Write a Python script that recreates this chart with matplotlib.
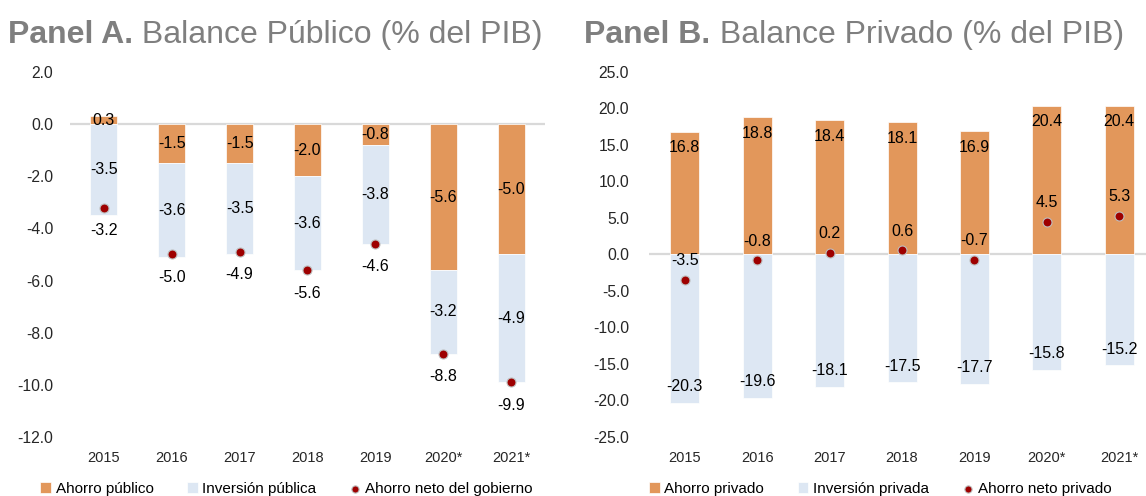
import numpy as np
import matplotlib.pyplot as plt

plt.rcParams['font.family'] = ['Liberation Sans', 'DejaVu Sans']

years = ['2015', '2016', '2017', '2018', '2019', '2020*', '2021*']

# Panel A - sector publico (% del PIB)
ahorro_pub = [0.3, -1.5, -1.5, -2.0, -0.8, -5.6, -5.0]
inversion_pub = [-3.5, -3.6, -3.5, -3.6, -3.8, -3.2, -4.9]
neto_gob = [-3.2, -5.0, -4.9, -5.6, -4.6, -8.8, -9.9]

# Panel B - sector privado (% del PIB)
ahorro_priv = [16.8, 18.8, 18.4, 18.1, 16.9, 20.4, 20.4]
inversion_priv = [-20.3, -19.6, -18.1, -17.5, -17.7, -15.8, -15.2]
neto_priv = [-3.5, -0.8, 0.2, 0.6, -0.7, 4.5, 5.3]

c_ahorro = '#e2975b'
c_inv = '#dde7f3'
c_dot = '#9e0000'
c_title = '#7f7f7f'
c_zero = '#d9d9d9'
lab_fs = 11.5

fig = plt.figure(figsize=(11.46, 4.96), dpi=100)
axA = fig.add_axes([0.061, 0.119, 0.4146, 0.736])
axB = fig.add_axes([0.566, 0.119, 0.434, 0.736])

x = np.arange(len(years))
w = 0.40


def style_axis(ax, ylim, step, pad):
    ax.set_ylim(*ylim)
    ax.set_yticks(np.arange(ylim[0], ylim[1] + step / 2, step))
    ax.set_yticklabels([f'{v:.1f}' for v in ax.get_yticks()])
    ax.set_xticks(x)
    ax.set_xticklabels(years)
    for s in ax.spines.values():
        s.set_visible(False)
    ax.axhline(0, color=c_zero, lw=1.6, zorder=1)
    ax.tick_params(axis='y', length=0, pad=pad, labelsize=11.3, labelcolor='#262626')
    ax.tick_params(axis='x', length=0, pad=10, labelsize=10.5, labelcolor='#262626')


# --- Panel A: inversion stacked below the ahorro segment
a = np.array(ahorro_pub)
i_pub = np.array(inversion_pub)
base_inv = np.minimum(a, 0)
axA.bar(x, a, w, color=c_ahorro, edgecolor='white', lw=0.5, zorder=2, label='Ahorro público')
axA.bar(x, i_pub, w, bottom=base_inv, color=c_inv, edgecolor='white', lw=0.5, zorder=2,
        label='Inversión pública')
axA.scatter(x, neto_gob, s=42, color=c_dot, edgecolors='#bdbdbd', linewidths=0.8, zorder=4,
            label='Ahorro neto del gobierno')
for xi, av, iv, b, nv in zip(x, a, i_pub, base_inv, neto_gob):
    axA.text(xi, av / 2, f'{av:.1f}', ha='center', va='center', fontsize=lab_fs, zorder=5)
    axA.text(xi, b + iv / 2, f'{iv:.1f}', ha='center', va='center', fontsize=lab_fs, zorder=5)
    axA.annotate(f'{nv:.1f}', (xi, nv), xytext=(0, -16.5), textcoords='offset points',
                 ha='center', va='center', fontsize=lab_fs, zorder=5)
axA.set_xlim(-0.5, 6.5)
style_axis(axA, (-12, 2), 2, 12)

# --- Panel B: ahorro above zero, inversion below
axB.bar(x, ahorro_priv, w, color=c_ahorro, edgecolor='white', lw=0.5, zorder=2, label='Ahorro privado')
axB.bar(x, inversion_priv, w, color=c_inv, edgecolor='white', lw=0.5, zorder=2,
        label='Inversión privada')
axB.scatter(x, neto_priv, s=42, color=c_dot, edgecolors='#bdbdbd', linewidths=0.8, zorder=4,
            label='Ahorro neto privado')
for xi, av, iv, nv in zip(x, ahorro_priv, inversion_priv, neto_priv):
    axB.annotate(f'{av:.1f}', (xi, av), xytext=(0, -11.5), textcoords='offset points',
                 ha='center', va='center', fontsize=lab_fs, zorder=5)
    axB.annotate(f'{iv:.1f}', (xi, iv), xytext=(0, 11.5), textcoords='offset points',
                 ha='center', va='center', fontsize=lab_fs, zorder=5)
    axB.annotate(f'{nv:.1f}', (xi, nv), xytext=(0, 13.7), textcoords='offset points',
                 ha='center', va='center', fontsize=lab_fs, zorder=5)
axB.set_xlim(-0.5, 6.37)
style_axis(axB, (-25, 25), 5, 14)

# Titles: bold panel tag followed by regular text
for xpos, tag, rest in [(0.007, 'Panel A.', ' Balance Público (% del PIB)'),
                        (0.510, 'Panel B.', ' Balance Privado (% del PIB)')]:
    t = fig.text(xpos, 0.93, tag, fontsize=23, fontweight='bold', color=c_title, va='center')
    axA.annotate(rest, xy=(1, 0.5), xycoords=t, va='center', ha='left',
                 fontsize=23, color=c_title, annotation_clip=False)

# Legends under each panel (bars first, then the dot)
for ax, cx in [(axA, 0.25), (axB, 0.768)]:
    h, l = ax.get_legend_handles_labels()
    order = [1, 2, 0]
    fig.legend([h[k] for k in order], [l[k] for k in order], loc='center',
               bbox_to_anchor=(cx, 0.014), ncol=3, frameon=False,
               fontsize=11, handlelength=0.7, handleheight=0.7, handletextpad=0.3,
               columnspacing=2.2, markerscale=0.8, borderaxespad=0)

fig.savefig('out.png', dpi=100)
